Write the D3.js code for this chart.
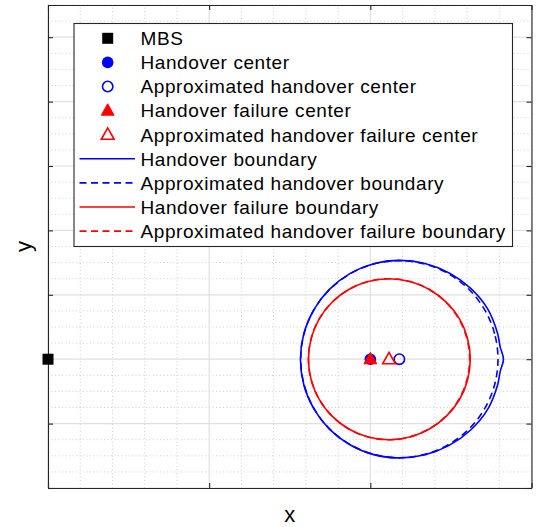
<!DOCTYPE html>
<html lang="en">
<head>
<meta charset="UTF-8">
<title>Handover boundaries</title>
<script src="https://d3js.org/d3.v7.min.js"></script>
<style>
  html, body { margin: 0; padding: 0; background: #fff; }
  svg { display: block; }
  text { font-family: "Liberation Sans", Arial, Helvetica, sans-serif; fill: #000; }
</style>
</head>
<body>
<script>
// axis ticks (no labels shown in the figure)
const xMajorTicks = [0, 250, 500, 750];
const yMajorTicks = [-200, -100, 0, 100, 200, 300, 400, 500];

// point markers
const mbsPos = [0, 0];
const hoCenter = [500, 0];
const hoCenterApprox = [545, 0];
const hofCenter = [500, 0];
const hofCenterApprox = [529, 0];

// boundaries (x, y)
const hoBoundary = [
  [706.5, 0], [701.4, 19.2], [697.2, 40.8], [681.5, 78.8], [655.3, 110.3], [622.3, 133.8],
  [584.8, 148.5], [545, 153.4], [505.3, 148.2], [468.3, 132.8], [436.5, 108.5], [412.2, 76.7],
  [396.8, 39.7], [391.6, 0], [396.8, -39.7], [412.2, -76.7], [436.5, -108.5], [468.3, -132.8],
  [505.3, -148.2], [545, -153.4], [584.8, -148.5], [622.3, -133.8], [655.3, -110.3],
  [681.5, -78.8], [697.2, -40.8], [701.4, -19.2]
];
const hoBoundaryApprox = [
  [698, 0], [692.8, 39.6], [677.5, 76.5], [653.2, 108.2], [621.5, 132.5], [584.6, 147.8],
  [545, 153], [505.4, 147.8], [468.5, 132.5], [436.8, 108.2], [412.5, 76.5], [397.2, 39.6],
  [392, 0], [397.2, -39.6], [412.5, -76.5], [436.8, -108.2], [468.5, -132.5], [505.4, -147.8],
  [545, -153], [584.6, -147.8], [621.5, -132.5], [653.2, -108.2], [677.5, -76.5], [692.8, -39.6]
];
const hofBoundary = [
  [655, 0], [650.7, 32.6], [638.1, 63], [617.7, 88.7], [591.5, 108.3], [561.4, 120.7],
  [529, 125], [496.6, 120.7], [466.5, 108.3], [440.6, 88.4], [420.7, 62.5], [408.3, 32.4],
  [404, 0], [408.3, -32.4], [420.7, -62.5], [440.6, -88.4], [466.5, -108.3], [496.6, -120.7],
  [529, -125], [561.4, -120.7], [591.5, -108.3], [617.7, -88.7], [638.1, -63], [650.7, -32.6]
];
const hofBoundaryApprox = [
  [654, 0], [649.7, 32.4], [637.3, 62.5], [617.4, 88.4], [591.5, 108.3], [561.4, 120.7],
  [529, 125], [496.6, 120.7], [466.5, 108.3], [440.6, 88.4], [420.7, 62.5], [408.3, 32.4],
  [404, 0], [408.3, -32.4], [420.7, -62.5], [440.6, -88.4], [466.5, -108.3], [496.6, -120.7],
  [529, -125], [561.4, -120.7], [591.5, -108.3], [617.4, -88.4], [637.3, -62.5], [649.7, -32.4]
];

const legendLabels = [
  "MBS", "Handover center", "Approximated handover center", "Handover failure center",
  "Approximated handover failure center", "Handover boundary", "Approximated handover boundary",
  "Handover failure boundary", "Approximated handover failure boundary"
];

const width = 537, height = 527;
const margin = { top: 5, right: 5.5, bottom: 39, left: 48 };
const axisColor = "#262626";

const svg = d3.select("body").append("svg")
  .attr("width", width)
  .attr("height", height);

const x = d3.scaleLinear().domain([0, 750]).range([margin.left, width - margin.right]);
const y = d3.scaleLinear().domain([-200, 550]).range([height - margin.bottom, margin.top]);

// minor grid (dotted)
const xMinor = d3.range(0, 751, 50).filter(v => !xMajorTicks.includes(v));
const yMinor = d3.range(-200, 551, 25).filter(v => !yMajorTicks.includes(v));

const grid = svg.append("g");
grid.selectAll(".xminor").data(xMinor).join("line")
  .attr("x1", d => x(d)).attr("x2", d => x(d))
  .attr("y1", y.range()[0]).attr("y2", y.range()[1])
  .attr("stroke", "#cfcfcf").attr("stroke-dasharray", "1,2.5");
grid.selectAll(".yminor").data(yMinor).join("line")
  .attr("y1", d => y(d)).attr("y2", d => y(d))
  .attr("x1", x.range()[0]).attr("x2", x.range()[1])
  .attr("stroke", "#cfcfcf").attr("stroke-dasharray", "1,2.5");

// major grid
grid.selectAll(".xmajor").data(xMajorTicks).join("line")
  .attr("x1", d => x(d)).attr("x2", d => x(d))
  .attr("y1", y.range()[0]).attr("y2", y.range()[1])
  .attr("stroke", "#e0e0e0").attr("stroke-width", 1.2);
grid.selectAll(".ymajor").data(yMajorTicks).join("line")
  .attr("y1", d => y(d)).attr("y2", d => y(d))
  .attr("x1", x.range()[0]).attr("x2", x.range()[1])
  .attr("stroke", "#e0e0e0").attr("stroke-width", 1.2);

// boundaries
const line = d3.line()
  .x(d => x(d[0]))
  .y(d => y(d[1]))
  .curve(d3.curveCatmullRomClosed.alpha(0.5));

const curves = [
  { pts: hoBoundary, color: "#0000ff", dash: null },
  { pts: hoBoundaryApprox, color: "#0000ff", dash: "7,4.5" },
  { pts: hofBoundary, color: "#ff0000", dash: null },
  { pts: hofBoundaryApprox, color: "#ff0000", dash: "7,4.5" }
];

svg.append("g").selectAll("path").data(curves).join("path")
  .attr("d", d => line(d.pts))
  .attr("fill", "none")
  .attr("stroke", d => d.color)
  .attr("stroke-width", 1.6)
  .attr("stroke-dasharray", d => d.dash);

// axes box with inward ticks
const tickLen = 5;
const axes = svg.append("g");
axes.append("g")
  .attr("transform", `translate(0,${y.range()[0]})`)
  .call(d3.axisBottom(x).tickValues(xMajorTicks).tickSizeInner(-tickLen).tickSizeOuter(0).tickFormat(""));
axes.append("g")
  .attr("transform", `translate(0,${y.range()[1]})`)
  .call(d3.axisTop(x).tickValues(xMajorTicks).tickSizeInner(-tickLen).tickSizeOuter(0).tickFormat(""));
axes.append("g")
  .attr("transform", `translate(${x.range()[0]},0)`)
  .call(d3.axisLeft(y).tickValues(yMajorTicks).tickSizeInner(-tickLen).tickSizeOuter(0).tickFormat(""));
axes.append("g")
  .attr("transform", `translate(${x.range()[1]},0)`)
  .call(d3.axisRight(y).tickValues(yMajorTicks).tickSizeInner(-tickLen).tickSizeOuter(0).tickFormat(""));
axes.selectAll("path.domain").attr("stroke", axisColor).attr("stroke-width", 1.1);
axes.selectAll(".tick line").attr("stroke", axisColor).attr("stroke-width", 1.1);

// marker helpers
function drawMarker(g, type, cx, cy) {
  const s = 11;
  if (type === "square") {
    g.append("rect").attr("x", cx - 5.5).attr("y", cy - 5.5)
      .attr("width", s).attr("height", s).attr("fill", "#000");
  } else if (type === "dot") {
    g.append("circle").attr("cx", cx).attr("cy", cy).attr("r", 5.8).attr("fill", "#0000ff");
  } else if (type === "ring") {
    g.append("circle").attr("cx", cx).attr("cy", cy).attr("r", 5.2)
      .attr("fill", "none").attr("stroke", "#0000ff").attr("stroke-width", 1.6);
  } else if (type === "tri" || type === "triOpen") {
    const pts = [[cx, cy - 6.8], [cx + 6.4, cy + 4.6], [cx - 6.4, cy + 4.6]];
    const open = type === "triOpen";
    g.append("polygon").attr("points", pts.map(p => p.join(",")).join(" "))
      .attr("fill", open ? "#fff" : "#ff0000")
      .attr("fill-opacity", open ? 0 : 1)
      .attr("stroke", "#ff0000").attr("stroke-width", open ? 1.6 : 1)
      .attr("stroke-linejoin", "miter");
  }
}

const markers = svg.append("g");
drawMarker(markers, "square", x(mbsPos[0]), y(mbsPos[1]));
drawMarker(markers, "dot", x(hoCenter[0]), y(hoCenter[1]));
drawMarker(markers, "ring", x(hoCenterApprox[0]), y(hoCenterApprox[1]));
drawMarker(markers, "tri", x(hofCenter[0]), y(hofCenter[1]));
drawMarker(markers, "triOpen", x(hofCenterApprox[0]), y(hofCenterApprox[1]));

// axis labels
svg.append("text")
  .attr("x", (x.range()[0] + x.range()[1]) / 2)
  .attr("y", 522)
  .attr("text-anchor", "middle")
  .style("font-size", "22px")
  .text("x");
svg.append("text")
  .attr("transform", `translate(31,${(y.range()[0] + y.range()[1]) / 2}) rotate(-90)`)
  .attr("text-anchor", "middle")
  .style("font-size", "22px")
  .text("y");

// legend
const legend = svg.append("g");
const lgX = 74, lgY = 23.5, lgW = 438.5, lgH = 223;
legend.append("rect")
  .attr("x", lgX).attr("y", lgY).attr("width", lgW).attr("height", lgH)
  .attr("fill", "#fff").attr("stroke", axisColor).attr("stroke-width", 1.1);

const legendItems = [
  { kind: "square" }, { kind: "dot" }, { kind: "ring" }, { kind: "tri" }, { kind: "triOpen" },
  { kind: "line", color: "#0000ff", dash: null },
  { kind: "line", color: "#0000ff", dash: "7,4.5" },
  { kind: "line", color: "#ff0000", dash: null },
  { kind: "line", color: "#ff0000", dash: "7,4.5" }
];

legendItems.forEach((it, i) => {
  const cy = 38.3 + i * 24.1;
  if (it.kind === "line") {
    legend.append("line")
      .attr("x1", 79.5).attr("x2", 135).attr("y1", cy).attr("y2", cy)
      .attr("stroke", it.color).attr("stroke-width", 1.6)
      .attr("stroke-dasharray", it.dash);
  } else {
    drawMarker(legend, it.kind, 107.7, cy);
  }
  legend.append("text")
    .attr("x", 140.5)
    .attr("y", cy + 6.8)
    .style("font-size", "19px")
    .style("letter-spacing", "0.58px")
    .text(legendLabels[i]);
});
</script>
</body>
</html>
